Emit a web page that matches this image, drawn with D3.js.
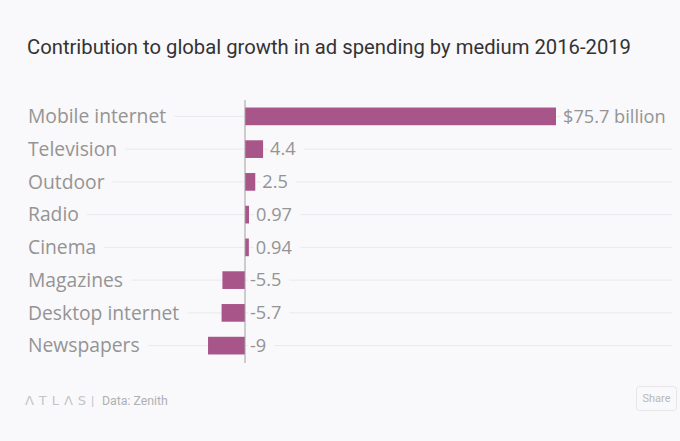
<!DOCTYPE html>
<html><head><meta charset="utf-8">
<script src="https://cdn.jsdelivr.net/npm/d3@7"></script>
<style>
html,body{margin:0;padding:0;background:#f9f8fa;}
svg{display:block;}
</style></head>
<body>
<svg id="c" width="680" height="441"></svg>
<script>
const categories = ["Mobile internet","Television","Outdoor","Radio","Cinema","Magazines","Desktop internet","Newspapers"];
const values = [75.7, 4.4, 2.5, 0.97, 0.94, -5.5, -5.7, -9];
const valueLabels = ["$75.7 billion","4.4","2.5","0.97","0.94","-5.5","-5.7","-9"];
const title = "Contribution to global growth in ad spending by medium 2016-2019";

const W = 680, H = 441, bg = "#f9f8fa";
const svg = d3.select("#c");
svg.append("rect").attr("width", W).attr("height", H).attr("fill", bg);

const x = d3.scaleLinear().domain([0, 75.7]).range([245, 556]);
const y = d3.scaleBand().domain(categories).range([100, 362]).paddingInner(0.46).paddingOuter(0.23);

svg.append("text").attr("x", 27).attr("y", 54).attr("fill", "#333")
  .style("font-family", "Roboto, sans-serif").style("font-size", "20px")
  .attr("textLength", 604).attr("lengthAdjust", "spacingAndGlyphs").text(title);

const g = svg.append("g");
g.selectAll("line.grid").data(categories).join("line")
  .attr("x1", 28).attr("x2", 672)
  .attr("y1", d => y(d) + y.bandwidth()/2).attr("y2", d => y(d) + y.bandwidth()/2)
  .attr("stroke", "#e9e8ec").attr("stroke-width", 1);

const lab = g.selectAll("g.lab").data(categories).join("g");
lab.each(function(d){
  const gg = d3.select(this);
  const t = gg.append("text").attr("x", 28).attr("y", y(d) + y.bandwidth()/2).attr("dy", "0.35em")
    .attr("fill", "#949494").style("font-family", "'Open Sans', sans-serif").style("font-size", "19.3px").text(d);
  const b = t.node().getBBox();
  gg.insert("rect", "text").attr("x", b.x - 2).attr("y", b.y).attr("width", b.width + 10).attr("height", b.height).attr("fill", bg);
});

g.selectAll("rect.bar").data(values).join("rect").attr("class", "bar")
  .attr("x", d => x(Math.min(0, d))).attr("width", d => Math.abs(x(d) - x(0)))
  .attr("y", (d, i) => y(categories[i])).attr("height", y.bandwidth())
  .attr("fill", "#a8568a");

const vl = g.selectAll("g.vl").data(values).join("g");
vl.each(function(d, i){
  const gg = d3.select(this);
  const px = d >= 0 ? x(d) + 7 : x(0) + 5;
  const t = gg.append("text").attr("x", px).attr("y", y(categories[i]) + y.bandwidth()/2).attr("dy", "0.35em")
    .attr("fill", "#949494").style("font-family", "'Open Sans', sans-serif").style("font-size", "18.2px").text(valueLabels[i]);
  const b = t.node().getBBox();
  gg.insert("rect", "text").attr("x", b.x - 2).attr("y", b.y).attr("width", b.width + 10).attr("height", b.height).attr("fill", bg);
});

svg.append("line").attr("x1", x(0)).attr("x2", x(0)).attr("y1", 100).attr("y2", 363)
  .attr("stroke", "#a0a0a0").attr("stroke-width", 1);

svg.append("text").attr("x", 25).attr("y", 405).attr("fill", "#c4c4c8")
  .style("font-family", "'DejaVu Sans', sans-serif").style("font-size", "13px")
  .attr("textLength", 61).attr("lengthAdjust", "spacing").text("ΛTLΛS");
svg.append("text").attr("x", 91).attr("y", 405).attr("fill", "#c4c4c8")
  .style("font-family", "Roboto, sans-serif").style("font-size", "13px").text("|");
svg.append("text").attr("x", 102).attr("y", 405).attr("fill", "#b0b0b4")
  .style("font-family", "Roboto, sans-serif").style("font-size", "12.3px").text("Data: Zenith");
svg.append("rect").attr("x", 636.5).attr("y", 386.5).attr("width", 40).attr("height", 24).attr("rx", 3)
  .attr("fill", "none").attr("stroke", "#e6e5e9");
svg.append("text").attr("x", 656.5).attr("y", 402).attr("text-anchor", "middle").attr("fill", "#b8b8bc")
  .style("font-family", "Roboto, sans-serif").style("font-size", "11px").text("Share");
</script>
</body></html>
